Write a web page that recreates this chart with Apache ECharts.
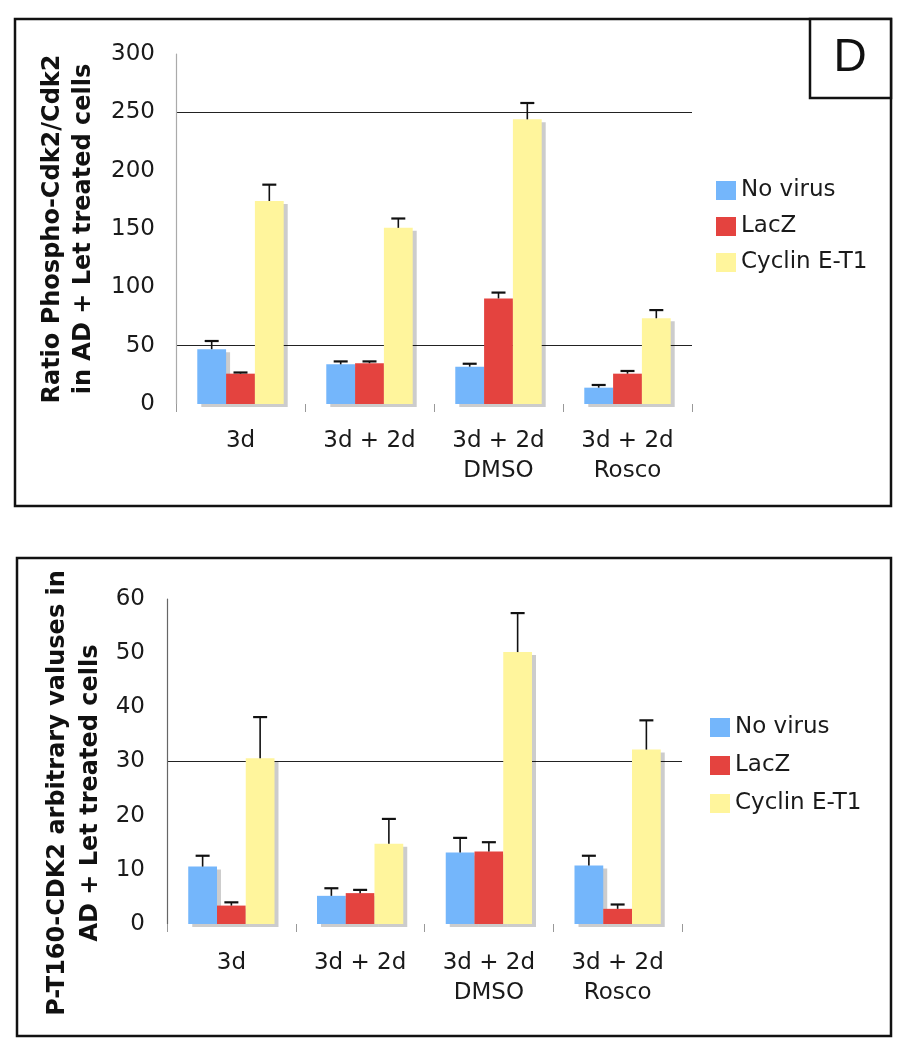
<!DOCTYPE html>
<html>
<head>
<meta charset="utf-8">
<script src="https://cdn.jsdelivr.net/npm/echarts@6/dist/echarts.min.js"></script>
<style>
html,body{margin:0;padding:0;background:#fff;}
#chart{width:900px;height:1050px;}
</style>
</head>
<body>
<div id="chart"></div>
<script>
// ---- data ----
const categories = ['3d', '3d + 2d', '3d + 2d\nDMSO', '3d + 2d\nRosco'];
const seriesNames = ['No virus', 'LacZ', 'Cyclin E-T1'];

// Top panel: Ratio Phospho-Cdk2/Cdk2
const topNoVirus = [47, 34, 32, 14];
const topNoVirusSD = [7, 2.5, 2.5, 2.3];
const topLacZ = [26, 35, 90.5, 26];
const topLacZSD = [1, 1.5, 5, 2.3];
const topCyclin = [174, 151, 244, 73.5];
const topCyclinSD = [14, 8, 14, 7];
const topTicks = { min: 0, max: 300, interval: 50 };

// Bottom panel: P-T160-CDK2 arbitrary values
const botNoVirus = [10.6, 5.2, 13.2, 10.8];
const botNoVirusSD = [2, 1.4, 2.7, 1.8];
const botLacZ = [3.4, 5.7, 13.4, 2.8];
const botLacZSD = [0.6, 0.6, 1.7, 0.8];
const botCyclin = [30.6, 14.8, 50.2, 32.2];
const botCyclinSD = [7.6, 4.6, 7.2, 5.4];
const botTicks = { min: 0, max: 60, interval: 10 };

const topTitle = 'Ratio Phospho-Cdk2/Cdk2\nin AD + Let treated cells';
const botTitle = 'P-T160-CDK2 arbitrary valuses in\nAD + Let treated cells';
const panelLetter = 'D';

// ---- styling ----
const COLORS = ['#74b6fb', '#e4433f', '#fff59c'];
const GAP = 0.33;
const FONT = '"DejaVu Sans", Verdana, sans-serif';
const TXT = '#1a1a1a';

function errRender(pos) {
  return function (params, api) {
    const cat = api.value(0), v = api.value(1), sd = api.value(2);
    const band = api.size([1, 0])[0];
    const bw = band * (1 - GAP) / 3;
    const base = api.coord([cat, v]);
    const top = api.coord([cat, v + sd]);
    const x = base[0] + (pos - 1) * bw;
    return {
      type: 'group',
      children: [
        { type: 'line', shape: { x1: x, y1: base[1], x2: x, y2: top[1] }, style: { stroke: '#111', lineWidth: 1.6 } },
        { type: 'line', shape: { x1: x - 7, y1: top[1], x2: x + 7, y2: top[1] }, style: { stroke: '#111', lineWidth: 2.2 } }
      ]
    };
  };
}

function barSeries(name, idx, data, axisIdx) {
  return {
    name: name, type: 'bar', xAxisIndex: axisIdx, yAxisIndex: axisIdx,
    data: data, barGap: '0%', barCategoryGap: (GAP * 100) + '%',
    itemStyle: { color: COLORS[idx], shadowColor: 'rgba(0,0,0,0.2)', shadowBlur: 0, shadowOffsetX: 4, shadowOffsetY: 3 },
    emphasis: { disabled: true }, z: 2
  };
}
function errSeries(idx, vals, sds, axisIdx) {
  return {
    name: 'err' + axisIdx + '_' + idx, type: 'custom', xAxisIndex: axisIdx, yAxisIndex: axisIdx,
    renderItem: errRender(idx),
    data: vals.map((v, i) => [i, v, sds[i]]),
    encode: { x: 0, y: 1 }, z: 4, silent: true
  };
}

const tp = 'transparent';
const chart = echarts.init(document.getElementById('chart'), null, { renderer: 'canvas' });
const option = {
  backgroundColor: '#fff',
  animation: false,
  textStyle: { fontFamily: FONT },
  grid: [
    { left: 176, top: 54, width: 516, height: 350 },
    { left: 167, top: 599, width: 515, height: 325 }
  ],
  legend: [
    { data: seriesNames, orient: 'vertical', left: 711, top: 174, itemWidth: 20, itemHeight: 19, itemGap: 13, icon: 'rect',
      textStyle: { fontSize: 23, color: TXT, fontFamily: FONT }, itemStyle: { shadowColor: tp, shadowOffsetX: 0, shadowOffsetY: 0 }, selectedMode: false },
    { data: seriesNames, orient: 'vertical', left: 705, top: 711, itemWidth: 20, itemHeight: 19, itemGap: 15, icon: 'rect',
      textStyle: { fontSize: 23, color: TXT, fontFamily: FONT }, itemStyle: { shadowColor: tp, shadowOffsetX: 0, shadowOffsetY: 0 }, selectedMode: false }
  ],
  xAxis: [0, 1].map(i => ({
    type: 'category', gridIndex: i, data: categories,
    axisLine: { show: false },
    axisTick: { show: true, length: 8, lineStyle: { color: '#999' } },
    axisLabel: { interval: 0, fontSize: 23, lineHeight: 30, color: TXT, margin: i === 0 ? 22 : 24, fontFamily: FONT },
    splitLine: { show: false }
  })),
  yAxis: [
    { type: 'value', gridIndex: 0, min: topTicks.min, max: topTicks.max, interval: topTicks.interval,
      axisLine: { show: true, lineStyle: { color: '#aaa', width: 1.2 } }, axisTick: { show: false },
      axisLabel: { fontSize: 23, color: TXT, margin: 21, fontFamily: FONT },
      splitLine: { show: true, showMinLine: true, showMaxLine: true, lineStyle: { color: [tp, '#222', tp, tp, tp, '#222', tp], width: 1.2 } } },
    { type: 'value', gridIndex: 1, min: botTicks.min, max: botTicks.max, interval: botTicks.interval,
      axisLine: { show: true, lineStyle: { color: '#666', width: 1.2 } }, axisTick: { show: false },
      axisLabel: { fontSize: 23, color: TXT, margin: 22, fontFamily: FONT },
      splitLine: { show: true, showMinLine: true, showMaxLine: true, lineStyle: { color: [tp, tp, tp, '#222', tp, tp, tp], width: 1.2 } } }
  ],
  series: [
    barSeries(seriesNames[0], 0, topNoVirus, 0),
    barSeries(seriesNames[1], 1, topLacZ, 0),
    barSeries(seriesNames[2], 2, topCyclin, 0),
    errSeries(0, topNoVirus, topNoVirusSD, 0),
    errSeries(1, topLacZ, topLacZSD, 0),
    errSeries(2, topCyclin, topCyclinSD, 0),
    barSeries(seriesNames[0], 0, botNoVirus, 1),
    barSeries(seriesNames[1], 1, botLacZ, 1),
    barSeries(seriesNames[2], 2, botCyclin, 1),
    errSeries(0, botNoVirus, botNoVirusSD, 1),
    errSeries(1, botLacZ, botLacZSD, 1),
    errSeries(2, botCyclin, botCyclinSD, 1)
  ],
  graphic: [
    { type: 'rect', shape: { x: 15, y: 19, width: 876, height: 487 }, style: { fill: 'none', stroke: '#111', lineWidth: 2.5 }, z: 0, silent: true },
    { type: 'rect', shape: { x: 810, y: 19, width: 81, height: 79 }, style: { fill: '#fff', stroke: '#111', lineWidth: 2.5 }, z: 10, silent: true },
    { type: 'text', x: 850, y: 58, style: { text: panelLetter, fontSize: 46, fontFamily: '"Liberation Sans", Arial, sans-serif', fill: '#111', textAlign: 'center', textVerticalAlign: 'middle' }, z: 11, silent: true },
    { type: 'rect', shape: { x: 17, y: 558, width: 874, height: 478 }, style: { fill: 'none', stroke: '#111', lineWidth: 2.5 }, z: 0, silent: true },
    { type: 'text', x: 68, y: 229, rotation: Math.PI / 2, style: { text: topTitle, fontSize: 24, fontWeight: 'bold', lineHeight: 31, fontFamily: FONT, fill: '#111', textAlign: 'center', textVerticalAlign: 'middle' }, silent: true },
    { type: 'text', x: 74, y: 793, rotation: Math.PI / 2, style: { text: botTitle, fontSize: 24, fontWeight: 'bold', lineHeight: 33, fontFamily: FONT, fill: '#111', textAlign: 'center', textVerticalAlign: 'middle' }, silent: true }
  ]
};
chart.setOption(option);
</script>
</body>
</html>
